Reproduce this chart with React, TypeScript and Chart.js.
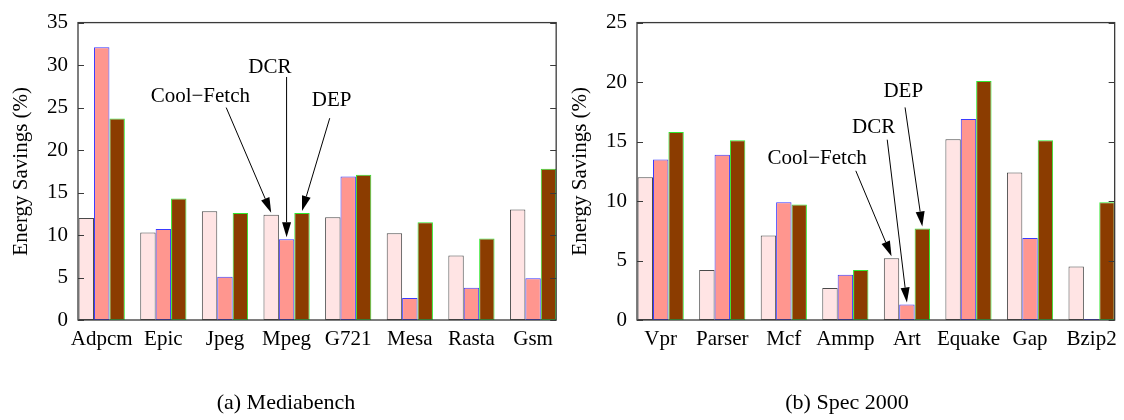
import React, { useEffect, useRef } from "react";
import { Chart, registerables } from "chart.js";

Chart.register(...registerables);

// ---------- data ----------
const seriesNames = ["Cool\u2212Fetch", "DCR", "DEP"];

const mediaCategories = ["Adpcm", "Epic", "Jpeg", "Mpeg", "G721", "Mesa", "Rasta", "Gsm"];
const mediaCoolFetch = [12.0, 10.3, 12.8, 12.4, 12.1, 10.2, 7.6, 13.0];
const mediaDCR = [32.1, 10.7, 5.1, 9.5, 16.9, 2.6, 3.8, 4.9];
const mediaDEP = [23.7, 14.3, 12.6, 12.6, 17.1, 11.5, 9.6, 17.8];
const mediaYMax = 35;
const mediaYStep = 5;

const specCategories = ["Vpr", "Parser", "Mcf", "Ammp", "Art", "Equake", "Gap", "Bzip2"];
const specCoolFetch = [12.0, 4.2, 7.1, 2.7, 5.2, 15.2, 12.4, 4.5];
const specDCR = [13.5, 13.9, 9.9, 3.8, 1.3, 16.9, 6.9, 0];
const specDEP = [15.8, 15.1, 9.7, 4.2, 7.7, 20.1, 15.1, 9.9];
const specYMax = 25;
const specYStep = 5;

const yTitle = "Energy Savings (%)";
const mediaCaption = "(a) Mediabench";
const specCaption = "(b) Spec 2000";

// annotation arrows: text centre and arrow tail in data units, tip at the bar (series, category)
const mediaNotes = [
  { text: "Cool\u2212Fetch", series: 0, cat: 3, tx: 1.6, ty: 26.3, ax: 2.02, ay: 25.0 },
  { text: "DCR", series: 1, cat: 3, tx: 2.73, ty: 29.7, ax: 3.0, ay: 28.6 },
  { text: "DEP", series: 2, cat: 3, tx: 3.73, ty: 25.8, ax: 3.7, ay: 23.75 },
];
const specNotes = [
  { text: "Cool\u2212Fetch", series: 0, cat: 4, tx: 2.54, ty: 13.6, ax: 3.17, ay: 12.54 },
  { text: "DCR", series: 1, cat: 4, tx: 3.46, ty: 16.15, ax: 3.68, ay: 15.16 },
  { text: "DEP", series: 2, cat: 4, tx: 3.94, ty: 19.18, ax: 3.97, ay: 17.87 },
];

// ---------- styles ----------
const FONT = "'Liberation Serif', 'Times New Roman', serif";
const fills = ["#ffe4e4", "#ff968f", "#8b3c00"];
const borders = ["#4a4a4a", "#3a3aff", "#30e830"];

const framePlugin = {
  id: "frameAndNotes",
  afterDraw(chart: any) {
    const opts = chart.options.plugins.frameAndNotes;
    const ctx = chart.ctx;
    const { left, right, top, bottom } = chart.chartArea;
    const ys = chart.scales.y;
    const xs = chart.scales.x;
    ctx.save();
    // frame
    ctx.strokeStyle = "#3a3a3a";
    ctx.lineWidth = 1.3;
    ctx.strokeRect(left, top, right - left, bottom - top);
    // inside ticks (left & right, gnuplot style)
    ctx.lineWidth = 1;
    ys.ticks.forEach((t: any) => {
      const py = Math.round(ys.getPixelForValue(t.value)) + 0.5;
      ctx.beginPath();
      ctx.moveTo(left, py);
      ctx.lineTo(left + 6, py);
      ctx.moveTo(right - 6, py);
      ctx.lineTo(right, py);
      ctx.stroke();
    });
    // annotations
    ctx.fillStyle = "#000";
    ctx.strokeStyle = "#000";
    ctx.font = `21px ${FONT}`;
    ctx.textAlign = "center";
    ctx.textBaseline = "middle";
    (opts.notes || []).forEach((n: any) => {
      const bar = chart.getDatasetMeta(n.series).data[n.cat];
      const tipX = bar.x;
      const tipY = bar.y - 2;
      const tailX = xs.getPixelForValue(n.ax);
      const tailY = ys.getPixelForValue(n.ay);
      ctx.fillText(n.text, xs.getPixelForValue(n.tx), ys.getPixelForValue(n.ty));
      const ang = Math.atan2(tipY - tailY, tipX - tailX);
      const headLen = 15;
      const headW = 4.5;
      const bx = tipX - headLen * Math.cos(ang);
      const by = tipY - headLen * Math.sin(ang);
      ctx.lineWidth = 1;
      ctx.beginPath();
      ctx.moveTo(tailX, tailY);
      ctx.lineTo(bx, by);
      ctx.stroke();
      ctx.beginPath();
      ctx.moveTo(tipX, tipY);
      ctx.lineTo(bx + headW * Math.sin(ang), by - headW * Math.cos(ang));
      ctx.lineTo(bx - headW * Math.sin(ang), by + headW * Math.cos(ang));
      ctx.closePath();
      ctx.fill();
    });
    // caption
    if (opts.caption) {
      ctx.font = `22px ${FONT}`;
      ctx.textBaseline = "alphabetic";
      ctx.fillText(opts.caption, opts.captionX, opts.captionY);
    }
    ctx.restore();
  },
};

type PanelProps = {
  width: number;
  categories: string[];
  values: number[][];
  yMax: number;
  yStep: number;
  axisWidth: number;
  padRight: number;
  titlePad: number;
  notes: any[];
  caption: string;
  captionX: number;
};

function Panel(p: PanelProps) {
  const ref = useRef<HTMLCanvasElement | null>(null);
  useEffect(() => {
    if (!ref.current) return;
    const datasets = p.values.map((vals, si) => ({
      label: seriesNames[si],
      data: vals.map((v, i) => ({ x: i, y: v })),
      backgroundColor: fills[si],
      borderColor: borders[si],
      borderWidth: 1,
      borderSkipped: false,
      minBarLength: 1,
      categoryPercentage: 0.75,
      barPercentage: 1.0,
    }));
    const chart = new Chart(ref.current, {
      type: "bar",
      data: { datasets },
      plugins: [framePlugin],
      options: {
        animation: false,
        responsive: false,
        devicePixelRatio: 1,
        layout: { padding: { top: 15, right: p.padRight, left: 0, bottom: 0 } },
        plugins: {
          legend: { display: false },
          tooltip: { enabled: false },
          frameAndNotes: {
            notes: p.notes,
            caption: p.caption,
            captionX: p.captionX,
            captionY: 409,
          },
        } as any,
        scales: {
          x: {
            type: "linear",
            offset: false,
            min: -0.385,
            max: 7.375,
            grid: { display: false, drawTicks: false, tickLength: 0, offset: false },
            border: { display: false },
            afterBuildTicks: (scale: any) => {
              scale.ticks = p.categories.map((_, i) => ({ value: i }));
            },
            afterFit: (scale: any) => {
              scale.height = 100;
            },
            ticks: {
              autoSkip: false,
              maxRotation: 0,
              padding: 7,
              color: "#000",
              font: { family: FONT, size: 21 },
              callback: (v: any) => p.categories[v as number] ?? "",
            },
          },
          y: {
            min: 0,
            max: p.yMax,
            grid: { display: false, drawTicks: false, tickLength: 0 },
            border: { display: false },
            afterFit: (scale: any) => {
              scale.width = p.axisWidth;
            },
            ticks: {
              stepSize: p.yStep,
              padding: 10,
              color: "#000",
              font: { family: FONT, size: 21 },
            },
            title: {
              display: true,
              text: yTitle,
              color: "#000",
              font: { family: FONT, size: 21 },
              padding: { top: p.titlePad, bottom: 0 },
            },
          },
        },
      } as any,
    });
    return () => chart.destroy();
  }, []);
  return <canvas ref={ref} width={p.width} height={420} style={{ width: p.width, height: 420, display: "block" }} />;
}

export default function App() {
  return (
    <div style={{ position: "absolute", left: 0, top: 0, width: 1124, height: 420, display: "flex", background: "#fff" }}>
      <Panel
        width={560}
        categories={mediaCategories}
        values={[mediaCoolFetch, mediaDCR, mediaDEP]}
        yMax={mediaYMax}
        yStep={mediaYStep}
        axisWidth={78}
        padRight={2}
        titlePad={9}
        notes={mediaNotes}
        caption={mediaCaption}
        captionX={286}
      />
      <Panel
        width={564}
        categories={specCategories}
        values={[specCoolFetch, specDCR, specDEP]}
        yMax={specYMax}
        yStep={specYStep}
        axisWidth={77}
        padRight={7}
        titlePad={8}
        notes={specNotes}
        caption={specCaption}
        captionX={287}
      />
    </div>
  );
}
